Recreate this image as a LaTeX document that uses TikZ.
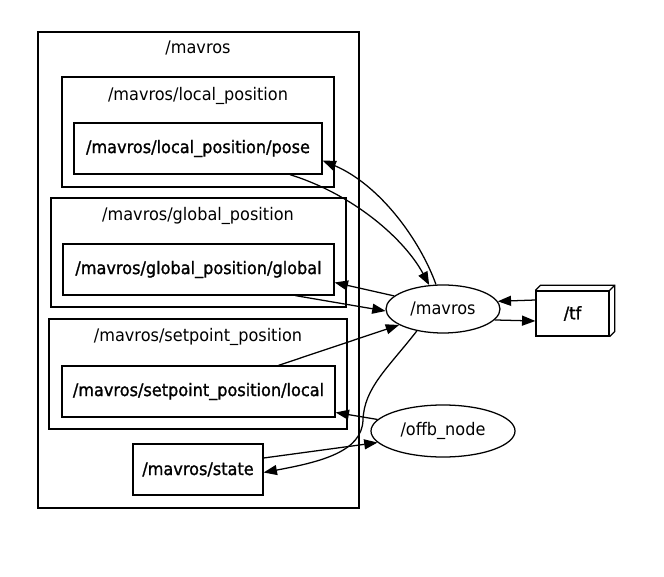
\documentclass[tikz,border=0pt]{standalone}
\usepackage{fontspec}
\setmainfont{DejaVu Sans}[FakeStretch=0.93]
\newfontfamily\boxfont{DejaVu Sans}[FakeStretch=0.93,FakeBold=1.2]
\usetikzlibrary{arrows.meta,calc,shapes.geometric}
\begin{document}
\begin{tikzpicture}[x=0.75pt,y=-0.75pt,
  line width=0.95pt,
  every node/.style={font=\fontsize{13}{15}\selectfont, inner sep=0pt},
  topic/.style={draw, rectangle, minimum height=38.25pt, font=\boxfont\fontsize{13}{15}\selectfont},
  rosnode/.style={draw, ellipse},
  cluster/.style={draw},
  ctitle/.style={},
  edge/.style={-{Triangle[length=10pt,width=7.5pt]}}]
\useasboundingbox (0,0) rectangle (664,577);
% clusters
\draw[cluster] (38,32) rectangle (359,508);
\node[ctitle] (tmav) at (198,48) {/mavros};
\draw[cluster] (62,77) rectangle (334,187);
\node[ctitle] (tlp) at (198,96) {/mavros/local\_position};
\draw[cluster] (51,198) rectangle (346,307);
\node[ctitle] (tgp) at (198,216) {/mavros/global\_position};
\draw[cluster] (49,319) rectangle (347,429);
\node[ctitle] (tsp) at (198,337) {/mavros/setpoint\_position};
% topics
\node[topic, minimum width=186pt] (pose) at (198,148.5) {/mavros/local\_position/pose};
\node[topic, minimum width=203.25pt] (global) at (198.5,269.5) {/mavros/global\_position/global};
\node[topic, minimum width=204.75pt] (local) at (198.5,391.5) {/mavros/setpoint\_position/local};
\node[topic, minimum width=97.5pt] (state) at (198,469.5) {/mavros/state};
% nodes
\node[rosnode, minimum width=85.5pt, minimum height=36pt] (mav) at (443,309) {/mavros};
\node[rosnode, minimum width=108pt, minimum height=39pt] (offb) at (443,431) {/offb\_node};
\node[topic, minimum width=54.75pt, minimum height=33.75pt] (tf) at (572.5,313.5) {/tf};
\draw (tf.north west) -- ++(5,-5) -- ([shift={(5,-5)}]tf.north east) -- ([shift={(5,-5)}]tf.south east) -- (tf.south east);
\draw (tf.north east) -- ++(5,-5);
% edges
\draw[edge] ($(pose.south)+(92,0)$) .. controls (355,195) and (405,240) .. (mav.120);
\draw[edge] (mav.106) .. controls (420,240) and (380,185) .. ($(pose.east)+(0,12)$);
\draw[edge] (mav.165) -- ($(global.east)+(0,13)$);
\draw[edge] ($(global.south)+(97,0)$) -- (mav.182);
\draw[edge] ($(local.north)+(80,0)$) -- (mav.200);
\draw[edge] (mav.220) .. controls (388,368) and (364,388) .. (363,420) .. controls (362,452) and (320,462) .. ($(state.east)+(0,3)$);
\draw[edge] (offb.170) -- ($(local.east)+(0,21)$);
\draw[edge] ($(state.east)+(0,-11.5)$) -- (offb.190);
\draw[edge] ($(tf.west)+(0,-13.5)$) -- (mav.8);
\draw[edge] (mav.-12) -- ($(tf.west)+(0,7.5)$);
\end{tikzpicture}
\end{document}
